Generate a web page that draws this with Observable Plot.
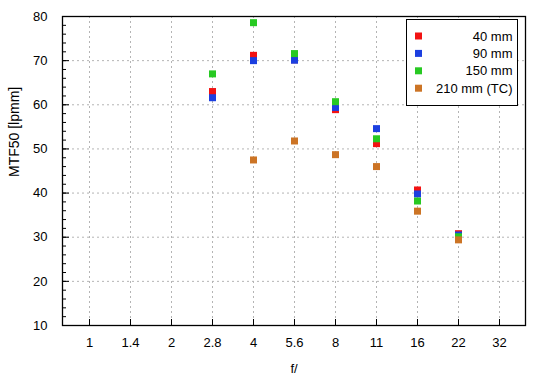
<!DOCTYPE html>
<html><head><meta charset="utf-8">
<script src="https://cdn.jsdelivr.net/npm/d3@7"></script>
<script src="https://cdn.jsdelivr.net/npm/@observablehq/plot@0.6"></script>
<style>body{margin:0;background:#fff;font-family:"Liberation Sans",Arial,sans-serif}</style>
</head><body><div id="chart"></div>
<script>
const fstops = ["1","1.4","2","2.8","4","5.6","8","11","16","22","32"];
const measured = ["2.8","4","5.6","8","11","16","22"];
const mm40  = [63.0, 71.2, 70.2, 58.9, 51.2, 40.7, 30.8];
const mm90  = [61.6, 70.0, 70.1, 59.4, 54.6, 39.8, 30.5];
const mm150 = [67.0, 78.6, 71.6, 60.7, 52.3, 38.2, 30.1];
const mm210 = [null, 47.5, 51.8, 48.7, 46.0, 35.9, 29.4];
const seriesNames = ["40 mm","90 mm","150 mm","210 mm (TC)"];
const seriesValues = [mm40, mm90, mm150, mm210];
const colors = ["#f21212","#1c3fe0","#27c922","#cc7425"];
const yMajor = [10,20,30,40,50,60,70,80];
const yGrid = [20,30,40,50,60,70];
const yMinor = d3.range(10, 81, 2);

const data = [];
seriesNames.forEach((s,i)=>{
  measured.forEach((f,j)=>{
    const v = seriesValues[i][j];
    if (v != null) data.push({series:s, f, v});
  });
});

const chart = Plot.plot({
  width: 550, height: 380,
  marginLeft: 62, marginRight: 25, marginTop: 16, marginBottom: 55,
  style: {fontFamily: '"Liberation Sans", Arial, sans-serif', fontSize: "13px", color: "#000", background: "#fff"},
  x: {type: "point", domain: fstops, padding: 0.62},
  y: {domain: [10, 80]},
  color: {domain: seriesNames, range: colors},
  marks: [
    Plot.gridX(fstops, {stroke: "#b4b4b4", strokeOpacity: 1, strokeDasharray: "2,3"}),
    Plot.gridY(yGrid, {stroke: "#b4b4b4", strokeOpacity: 1, strokeDasharray: "2,3"}),
    Plot.axisY(yMinor, {tickSize: -4, text: null, label: null}),
    Plot.axisY(yMajor, {tickSize: -7, text: null, label: null}),
    Plot.axisY(yMajor, {tickSize: 0, tickPadding: 15, label: null, fontSize: 13}),
    Plot.axisX(fstops, {tickSize: -6, text: null, label: null}),
    Plot.axisX(fstops, {tickSize: 0, tickPadding: 12, label: null, fontSize: 13}),
    Plot.frame({stroke: "#000", strokeWidth: 1.3}),
    Plot.dot(data, {x: "f", y: "v", fill: "series", symbol: "square", r: 3.95, stroke: null}),
    Plot.text(["f/"], {frameAnchor: "bottom", dy: 47, fontSize: 13}),
    Plot.text(["MTF50 [lpmm]"], {frameAnchor: "left", dx: -47.5, dy: 6, rotate: -90, fontSize: 14})
  ]
});
document.getElementById("chart").appendChild(chart);

// legend box inside the plot area
const svg = d3.select(chart);
const lg = svg.append("g").attr("font-family", '"Liberation Sans", Arial, sans-serif').attr("font-size", 13);
lg.append("rect").attr("x", 406.5).attr("y", 19.5).attr("width", 111).attr("height", 86)
  .attr("fill", "#fff").attr("stroke", "#000").attr("stroke-width", 1);
seriesNames.forEach((s,i)=>{
  const cy = 36 + i*17.4;
  lg.append("rect").attr("x", 415).attr("y", cy-3.5).attr("width", 7).attr("height", 7).attr("fill", colors[i]);
  lg.append("text").attr("x", 512.5).attr("y", cy).attr("dy", "0.35em").attr("text-anchor", "end").text(s);
});
</script></body></html>
